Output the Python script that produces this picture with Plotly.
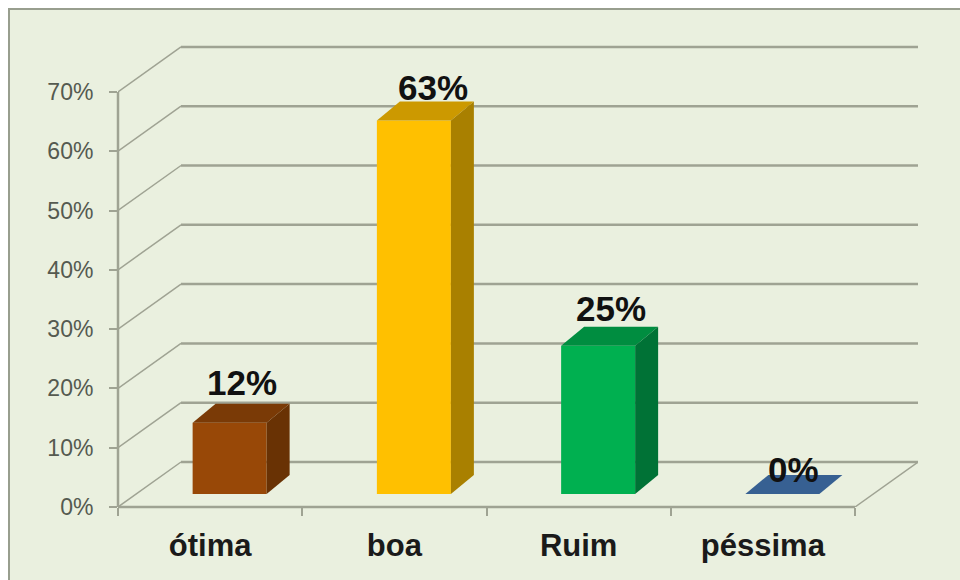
import plotly.graph_objects as go

categories = ["ótima", "boa", "Ruim", "péssima"]
values = [12, 63, 25, 0]
value_labels = ["12%", "63%", "25%", "0%"]
y_ticks = [0, 10, 20, 30, 40, 50, 60, 70]

front_colors = ["#984807", "#FFC000", "#00B050", "#376092"]
top_colors = ["#7A3A06", "#CC9900", "#008D40", "#376092"]
side_colors = ["#693204", "#A98000", "#007236", "#2A4A72"]

# Pseudo-3D geometry, in axis units
WIDTH, HEIGHT = 960, 580
LEFT, RIGHT, TOP, BOTTOM = 118, 918, 45, 507
PX_PER_CAT = 184.25
PX_PER_PCT = 5.93
wall_dx = 63 / PX_PER_CAT
wall_dy = 45 / PX_PER_PCT
bar_dx = 23 / PX_PER_CAT
bar_dy = 19 / PX_PER_PCT
bar_shift = 19.5 / PX_PER_CAT
bar_lift = 13 / PX_PER_PCT
bar_width = 74 / PX_PER_CAT
x_min, x_max = -0.5, 3.5
x_range = [x_min, x_max + wall_dx]
y_range = [0, (BOTTOM - TOP) / PX_PER_PCT]
grid_color = "#9FA393"

fig = go.Figure()

# Wall and floor lines sit beneath the bars
shapes = []
px_x = lambda p: (p - LEFT) / (RIGHT - LEFT)
px_y = lambda p: (BOTTOM - p) / (BOTTOM - TOP)
shapes.append(dict(type="rect", xref="paper", yref="paper", layer="below",
                   x0=px_x(9), x1=px_x(975), y0=px_y(595), y1=px_y(9),
                   fillcolor="#EAF0DF", line=dict(color="#989E8E", width=2)))


def segment(x0, y0, x1, y1, width=2):
    return dict(type="line", xref="x", yref="y", layer="below", x0=x0, y0=y0, x1=x1, y1=y1,
                line=dict(color=grid_color, width=width))


for tick in y_ticks:
    shapes.append(segment(x_min, tick, x_min + wall_dx, tick + wall_dy, 1.5))
    shapes.append(segment(x_min + wall_dx, tick + wall_dy, x_max + wall_dx, tick + wall_dy, 2.5))
shapes.append(segment(x_max, 0, x_max + wall_dx, wall_dy, 1.5))

# Front axis lines lie on the plot edge; paper-referenced shapes escape the clip
x_end = (x_max - x_range[0]) / (x_range[1] - x_range[0])
y_end = y_ticks[-1] / y_range[1]
axis_line = dict(color=grid_color, width=2.5)
shapes.append(dict(type="line", xref="paper", yref="paper", layer="below",
                   x0=0, x1=x_end, y0=0, y1=0, line=axis_line))
shapes.append(dict(type="line", xref="paper", yref="paper", layer="below",
                   x0=0, x1=0, y0=0, y1=y_end, line=axis_line))

# Front faces
positions = [i + bar_shift for i in range(len(categories))]
fig.add_trace(go.Bar(x=positions, y=values, base=bar_lift, width=bar_width,
                     marker=dict(color=front_colors, line=dict(width=0)),
                     showlegend=False, hoverinfo="skip"))

# Top and side faces
for pos, val, top_c, side_c in zip(positions, values, top_colors, side_colors):
    x0, x1 = pos - bar_width / 2, pos + bar_width / 2
    y0, y1 = bar_lift, bar_lift + val
    fig.add_trace(go.Scatter(x=[x0, x1, x1 + bar_dx, x0 + bar_dx, x0],
                             y=[y1, y1, y1 + bar_dy, y1 + bar_dy, y1],
                             mode="lines", fill="toself", fillcolor=top_c,
                             line=dict(width=0), showlegend=False, hoverinfo="skip"))
    if val > 0:
        fig.add_trace(go.Scatter(x=[x1, x1 + bar_dx, x1 + bar_dx, x1, x1],
                                 y=[y0, y0 + bar_dy, y1 + bar_dy, y1, y0],
                                 mode="lines", fill="toself", fillcolor=side_c,
                                 line=dict(width=0), showlegend=False, hoverinfo="skip"))

# Value labels above each bar
label_shift_x = [12, 19, 13, 11]
label_shift_y = [21, 14, 18, 6]
annotations = []
for pos, val, text, sx, sy in zip(positions, values, value_labels, label_shift_x, label_shift_y):
    annotations.append(dict(x=pos, y=bar_lift + val + bar_dy, text=f"<b>{text}</b>", showarrow=False,
                            xref="x", yref="y", xanchor="center", yanchor="middle",
                            xshift=sx, yshift=sy,
                            font=dict(family="Liberation Sans", size=35, color="#111111")))

fig.update_layout(
    width=WIDTH, height=HEIGHT, autosize=False,
    margin=dict(l=LEFT, r=WIDTH - RIGHT, t=TOP, b=HEIGHT - BOTTOM, pad=0),
    paper_bgcolor="white", plot_bgcolor="rgba(0,0,0,0)",
    shapes=shapes, annotations=annotations, showlegend=False,
    xaxis=dict(range=x_range, tickmode="array",
               tickvals=list(range(len(categories))), ticktext=[f"<b>{c}</b>" for c in categories],
               ticks="", showgrid=False, zeroline=False, showline=False,
               tickfont=dict(family="Liberation Sans", size=31, color="#1A1A1A"),
               ticklabelstandoff=17,
               minor=dict(tickmode="array", tickvals=[x_min + i for i in range(len(categories) + 1)],
                          ticks="outside", ticklen=8, tickwidth=2, tickcolor=grid_color, showgrid=False)),
    yaxis=dict(range=y_range, tickmode="array", tickvals=y_ticks,
               ticktext=[f"{t}%" for t in y_ticks], ticks="outside", ticklen=8, tickwidth=2,
               tickcolor=grid_color, showgrid=False, zeroline=False, showline=False,
               tickfont=dict(family="Liberation Sans", size=23, color="#555A50"),
               ticklabelstandoff=11),
)

fig.write_html("out.html")
